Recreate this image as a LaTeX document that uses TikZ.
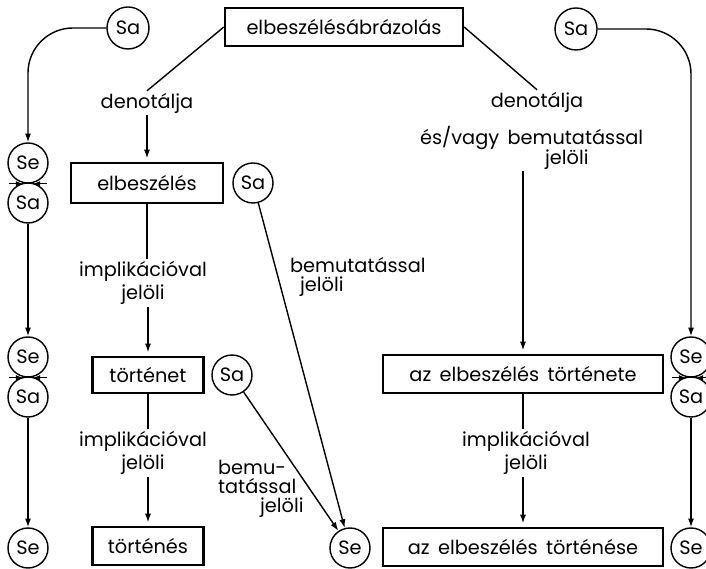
\documentclass[tikz,border=0pt]{standalone}
\usepackage{fontspec}
\setmainfont{Poppins}
\usetikzlibrary{arrows.meta,positioning,calc}

\begin{document}
\begin{tikzpicture}[
    font=\fontsize{11}{13}\selectfont,
    box/.style={
        draw=black, line width=1.3pt,
        minimum height=0.76cm, inner sep=2pt
    },
    sign/.style={
        circle, draw=black, thick,
        minimum size=0.8cm, inner sep=0pt
    },
    arrow/.style={
        -{Latex[length=5pt,width=3.5pt]}, thick, black
    },
    link/.style={thick, black},
    lbl/.style={align=center, inner sep=1pt},
    meet/.style={-{Latex[length=4pt,width=3pt]}, thick}
]
\useasboundingbox (0,0) rectangle (14.12,11.38);

% Boxes of the middle and right columns
\node[box, minimum width=4.76cm] (repr) at (6.88,10.84) {elbeszélésábrázolás};
\node[box, minimum width=3.04cm, minimum height=0.8cm] (narr) at (2.94,7.72) {elbeszélés};
\node[box, minimum width=2.22cm, minimum height=0.72cm] (story) at (2.96,3.88) {történet};
\node[box, minimum width=2.22cm] (event) at (2.96,0.46) {történés};
\node[box, minimum width=5.6cm] (nstory) at (10.46,3.9) {az\, elbeszélés\, története};
\node[box, minimum width=5.6cm] (nevent) at (10.46,0.44) {az\, elbeszélés\, történése};

% Signs (Sa / Se)
\node[sign, minimum size=0.84cm] (saA) at (2.56,10.82) {Sa};
\node[sign] (seL1) at (0.56,8.12) {Se};
\node[sign] (saL1) at (0.56,7.32) {Sa};
\node[sign] (seL2) at (0.56,4.24) {Se};
\node[sign] (saL2) at (0.56,3.44) {Sa};
\node[sign] (seL3) at (0.56,0.42) {Se};

\node[sign] (saM1) at (5.06,7.72) {Sa};
\node[sign] (saM2) at (4.64,3.88) {Sa};
\node[sign] (seM) at (7.0,0.42) {Se};

\node[sign, minimum size=0.84cm] (saR) at (11.52,10.8) {Sa};
\node[sign] (seR1) at (13.82,4.24) {Se};
\node[sign] (saR1) at (13.82,3.44) {Sa};
\node[sign] (seR2) at (13.82,0.42) {Se};

% Labels
\node[lbl] (denL) at (2.94,9.32) {denotálja};
\node[lbl] (impL1) at (2.86,5.72) {implikációval\\jelöli};
\node[lbl] (impL2) at (2.86,2.32) {implikációval\\jelöli};
\node[lbl, align=left, anchor=west] (bemL1) at (5.76,5.84) {bemutatással\\[-2pt]\hspace*{0.2cm}jelöli};
\node[lbl, align=left, anchor=west] (bemL2) at (4.32,1.6) {bemu-\\[-2pt]tatással\\[-2pt]\hspace*{0.84cm}jelöli};
\node[lbl] (denR) at (10.74,9.34) {denotálja};
\node[lbl, align=left, anchor=west] (bemR) at (8.36,8.42) {és/vagy\, bemutatással\\[-2pt]\hspace*{2.5cm}jelöli};
\node[lbl] (impR) at (10.52,2.32) {implikációval\\jelöli};

% Left column
\draw[arrow, rounded corners=0.9cm] (saA.west) -| (seL1.north);
\draw[arrow] (saL1.south) -- (seL2.north);
\draw[arrow] (saL2.south) -- (seL3.north);

% Middle column
\draw[link] (repr.west) -- (denL.north);
\draw[arrow, shorten >=2pt] (denL.south) -- (denL.south |- narr.north);
\draw[link] (narr.south) -- (narr.south |- impL1.north);
\draw[arrow, shorten >=2pt] (impL1.south -| story.north) -- (story.north);
\draw[link] (story.south) -- (story.south |- impL2.north);
\draw[arrow, shorten >=2pt] (impL2.south -| event.north) -- (event.north);
\draw[arrow] (saM1) -- (seM);
\draw[arrow] (saM2) -- (seM);

% Right column
\draw[link] (repr.east) -- (denR.north);
\draw[arrow, shorten >=2pt] (bemR.south -| nstory.north) -- (nstory.north);
\draw[link] (nstory.south) -- (nstory.south |- impR.north);
\draw[arrow, shorten >=2pt] (impR.south -| nevent.north) -- (nevent.north);
\draw[arrow, rounded corners=0.9cm] (saR.east) -| (seR1.north);
\draw[arrow] (saR1.south) -- (seR2.north);

% Where Se and Sa meet
\draw[meet] ([xshift=-0.38cm]seL1.south) -- ([xshift=-0.1cm]seL1.south);
\draw[meet] ([xshift=0.38cm]seL1.south) -- ([xshift=0.1cm]seL1.south);
\draw[meet] ([xshift=-0.38cm]seL2.south) -- ([xshift=-0.1cm]seL2.south);
\draw[meet] ([xshift=0.38cm]seL2.south) -- ([xshift=0.1cm]seL2.south);
\draw[meet] ([xshift=-0.38cm]seR1.south) -- ([xshift=-0.1cm]seR1.south);
\draw[meet] ([xshift=0.38cm]seR1.south) -- ([xshift=0.1cm]seR1.south);

\end{tikzpicture}
\end{document}
